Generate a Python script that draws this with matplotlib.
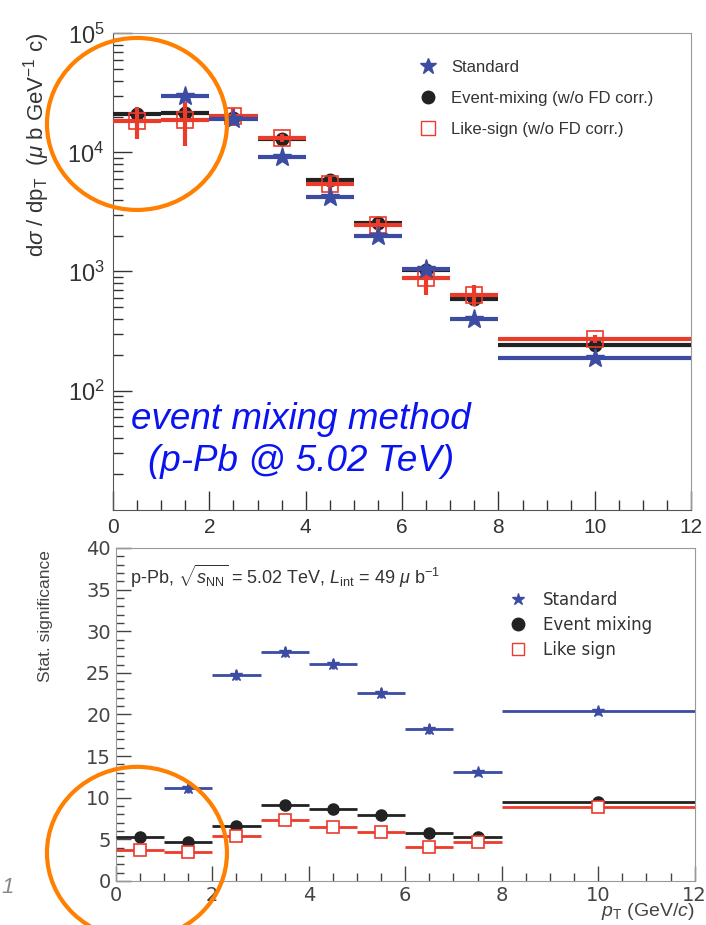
import numpy as np
import matplotlib
matplotlib.use("Agg")
import matplotlib.pyplot as plt
from matplotlib.lines import Line2D
from matplotlib.patches import Ellipse
from matplotlib.ticker import MultipleLocator, LogLocator, NullFormatter

plt.rcParams['font.family'] = ['Liberation Sans', 'DejaVu Sans']
plt.rcParams['mathtext.fontset'] = 'custom'
plt.rcParams['mathtext.rm'] = 'Liberation Sans'
plt.rcParams['mathtext.it'] = 'Liberation Sans:italic'

# pT bins (centres and half widths)
pt = [0.5, 1.5, 2.5, 3.5, 4.5, 5.5, 6.5, 7.5, 10.0]
pt_hw = [0.5, 0.5, 0.5, 0.5, 0.5, 0.5, 0.5, 0.5, 2.0]

# top panel: cross section (ub GeV^-1 c)
xs_std = [30000, 19200, 9100, 4250, 2000, 1040, 400, 188]
xs_std_err = [1500, 900, 400, 200, 90, 50, 20, 8]
xs_em = [21000, 21500, 19500, 13000, 5900, 2530, 1030, 592, 242]
xs_em_err = [2500, 3000, 1500, 800, 400, 150, 120, 60, 20]
xs_ls = [18500, 18800, 20300, 13300, 5400, 2450, 890, 640, 272]
xs_ls_err = [5500, 7500, 3500, 1000, 800, 300, 250, 130, 20]

# bottom panel: statistical significance
sig_std = [11.15, 24.8, 27.5, 26.1, 22.6, 18.2, 13.1, 20.4]
sig_std_err = [0.6, 0.6, 0.6, 0.6, 0.6, 0.6, 0.5, 0.5]
sig_em = [5.33, 4.65, 6.6, 9.1, 8.66, 7.94, 5.74, 5.29, 9.47]
sig_ls = [3.73, 3.45, 5.45, 7.3, 6.5, 5.9, 4.1, 4.7, 8.94]

blue = '#3b4ca2'
red = '#eb3b2b'
black = '#222222'
spine_col = '#999999'

fig = plt.figure(figsize=(7.06, 9.25), dpi=100)

# ---------------- top panel ----------------
ax1 = fig.add_axes([0.160, 0.449, 0.819, 0.515])
ax1.errorbar(pt, xs_em, xerr=pt_hw, yerr=xs_em_err, fmt='o', color=black,
             ms=9, elinewidth=3, capsize=0, zorder=3)
ax1.errorbar(pt, xs_ls, xerr=pt_hw, yerr=xs_ls_err, fmt='s', color=red,
             mfc='none', ms=11, mew=1.2, elinewidth=3, capsize=0, zorder=4)
ax1.errorbar(pt[1:], xs_std, xerr=pt_hw[1:], yerr=xs_std_err, fmt='*', color=blue,
             ms=14, elinewidth=3, capsize=0, zorder=5)
ax1.set_yscale('log')
ax1.set_xlim(0, 12)
ax1.set_ylim(10, 1e5)
ax1.xaxis.set_major_locator(MultipleLocator(2))
ax1.xaxis.set_minor_locator(MultipleLocator(0.5))
ax1.yaxis.set_minor_locator(LogLocator(base=10, subs=np.arange(2, 10), numticks=10))
ax1.yaxis.set_minor_formatter(NullFormatter())
ax1.set_yticks([1e2, 1e3, 1e4, 1e5])
ax1.set_yticklabels([r'$10^2$', r'$10^3$', r'$10^4$', r'$10^5$'])
ax1.tick_params(axis='both', which='both', direction='in', top=False, right=False,
                colors='#333333')
ax1.tick_params(axis='x', labelsize=15, pad=6)
ax1.tick_params(axis='y', labelsize=17, pad=6)
ax1.tick_params(axis='both', which='major', length=14, width=1)
ax1.tick_params(axis='both', which='minor', length=7, width=1)
for s in ax1.spines.values():
    s.set_color(spine_col)
ax1.spines['left'].set_color('#555555')
ax1.spines['bottom'].set_color('#555555')

fig.text(0.052, 0.965, r'd$\sigma$ / dp$_{\rm T}$  ($\mu$ b GeV$^{-1}$ c)', rotation=90,
         ha='center', va='top', fontsize=16, color='#333333')

h1 = [Line2D([], [], marker='*', color=blue, ls='none', ms=12),
      Line2D([], [], marker='o', color=black, ls='none', ms=9),
      Line2D([], [], marker='s', color=red, mfc='none', ls='none', ms=10)]
ax1.legend(h1, ['Standard', 'Event-mixing (w/o FD corr.)', 'Like-sign (w/o FD corr.)'],
           loc='upper left', bbox_to_anchor=(0.49, 0.975), frameon=False, fontsize=12,
           handletextpad=0.4, labelspacing=0.95, labelcolor='#333333')

ax1.text(0.325, 0.145, 'event mixing method\n(p-Pb @ 5.02 TeV)', transform=ax1.transAxes,
         ha='center', va='center', multialignment='center', fontsize=26.5,
         style='italic', color='#0a14f0', linespacing=1.25)

# ---------------- bottom panel ----------------
ax2 = fig.add_axes([0.164, 0.0476, 0.820, 0.360])
ax2.errorbar(pt, sig_em, xerr=pt_hw, fmt='o', color=black, ms=8, elinewidth=2,
             capsize=0, zorder=3)
ax2.errorbar(pt, sig_ls, xerr=pt_hw, fmt='s', color=red, mfc='white', ms=8, mew=1.2,
             elinewidth=2, capsize=0, zorder=4)
ax2.errorbar(pt[1:], sig_std, xerr=pt_hw[1:], yerr=sig_std_err, fmt='*', color=blue,
             ms=9, elinewidth=2, capsize=0, zorder=5)
ax2.set_xlim(0, 12)
ax2.set_ylim(0, 40)
ax2.xaxis.set_major_locator(MultipleLocator(2))
ax2.xaxis.set_minor_locator(MultipleLocator(0.5))
ax2.yaxis.set_major_locator(MultipleLocator(5))
ax2.yaxis.set_minor_locator(MultipleLocator(1))
ax2.tick_params(axis='both', which='both', direction='in', top=False, right=False,
                labelsize=14, colors='#444444')
ax2.tick_params(axis='both', which='major', length=11, width=1)
ax2.tick_params(axis='both', which='minor', length=6, width=1)
for s in ax2.spines.values():
    s.set_color(spine_col)
for lab in ax2.get_xticklabels() + ax2.get_yticklabels():
    lab.set_family('DejaVu Sans')

fig.text(0.064, 0.405, 'Stat. significance', rotation=90, ha='center', va='top',
         fontsize=12.5, color='#444444')
ax2.text(0.025, 0.955,
         r'p-Pb, $\sqrt{s_{\rm NN}}$ = 5.02 TeV, $L_{\rm int}$ = 49 $\mu$ b$^{-1}$',
         transform=ax2.transAxes, ha='left', va='top', fontsize=13, color='#333333')
ax2.text(1.0, -0.093, r'$p_{\rm T}$ (GeV/$c$)', transform=ax2.transAxes,
         ha='right', va='center', fontsize=14, color='#444444')

h2 = [Line2D([], [], marker='*', color=blue, ls='none', ms=9),
      Line2D([], [], marker='o', color=black, ls='none', ms=9),
      Line2D([], [], marker='s', color=red, mfc='none', ls='none', ms=9)]
leg2 = ax2.legend(h2, ['Standard', 'Event mixing', 'Like sign'], loc='upper left',
                  bbox_to_anchor=(0.64, 0.915), frameon=False, fontsize=12,
                  handletextpad=0.5, labelspacing=0.4, labelcolor='#333333')
for t in leg2.get_texts():
    t.set_family('DejaVu Sans')

# orange highlight circles
for cy in (0.866, 0.078):
    fig.add_artist(Ellipse((0.194, cy), 180 / 706, 172 / 925, transform=fig.transFigure,
                           fill=False, edgecolor='#ff8000', lw=3, zorder=10))

fig.text(0.002, 0.035, '1', fontsize=16, style='italic', color='#888888')

fig.savefig('out.png', dpi=100)
